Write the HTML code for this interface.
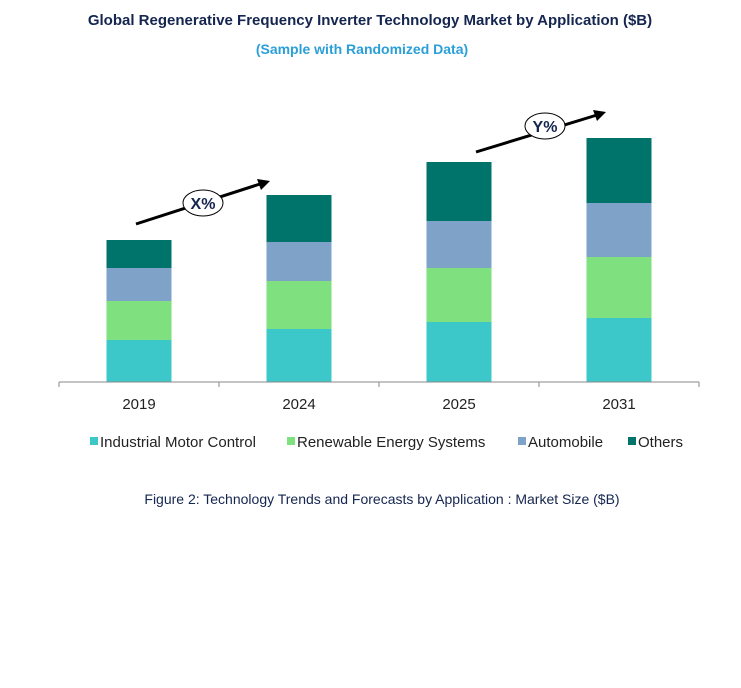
<!DOCTYPE html>
<html><head><meta charset="utf-8"><style>
body{margin:0;background:#fff;font-family:"Liberation Sans",Arial,sans-serif;}
svg{display:block}
</style></head><body>
<svg id="chart" width="741" height="688">
<text x="370" y="25" text-anchor="middle" font-size="15" font-weight="bold" fill="#14254f">Global Regenerative Frequency Inverter Technology Market by Application ($B)</text>
<text x="362" y="54" text-anchor="middle" font-size="14" font-weight="bold" fill="#2a9fd8">(Sample with Randomized Data)</text>
<g id="bars"></g>
<line x1="59" y1="382" x2="699" y2="382" stroke="#888"/>
<g id="ticks"></g>
<g>
<line x1="136" y1="224" x2="260" y2="184" stroke="#000" stroke-width="3"/>
<polygon points="270,181 257,179 261,190" fill="#000"/>
<ellipse cx="203" cy="203" rx="20" ry="13" fill="#fff" stroke="#000"/>
<text x="203" y="209" text-anchor="middle" font-size="16" font-weight="bold" fill="#14254f">X%</text>
</g>
<g>
<line x1="476" y1="152" x2="597" y2="115" stroke="#000" stroke-width="3"/>
<polygon points="606,112 593,110 597,121" fill="#000"/>
<ellipse cx="545" cy="126" rx="20" ry="13" fill="#fff" stroke="#000"/>
<text x="545" y="132" text-anchor="middle" font-size="16" font-weight="bold" fill="#14254f">Y%</text>
</g>
<g id="legend"></g>
<text x="382" y="504" text-anchor="middle" font-size="14" fill="#14254f">Figure 2: Technology  Trends  and Forecasts by Application : Market Size ($B)</text>
</svg>
<script>
const categories=["2019","2024","2025","2031"];
const seriesNames=["Industrial Motor Control","Renewable Energy Systems","Automobile","Others"];
const industrial=[4.2,5.3,6.0,6.4];
const renewable=[3.9,4.8,5.4,6.1];
const automobile=[3.3,3.9,4.7,5.4];
const others=[2.8,4.7,5.9,6.5];
const colors=["#3cc8c8","#7ee07e","#7fa3c8","#00736a"];
const series=[industrial,renewable,automobile,others];
const NS="http://www.w3.org/2000/svg";
const x0=59,band=160,baseY=382,pxPer=10,barW=65;
function xCenter(i){return x0+band*i+band/2;}
function yPos(v){return baseY-v*pxPer;}
const bars=document.getElementById('bars');
categories.forEach((c,i)=>{
  let acc=0;
  series.forEach((s,k)=>{
    const r=document.createElementNS(NS,'rect');
    r.setAttribute('x',xCenter(i)-barW/2);
    r.setAttribute('y',yPos(acc+s[i]));
    r.setAttribute('width',barW);
    r.setAttribute('height',s[i]*pxPer);
    r.setAttribute('fill',colors[k]);
    
    
    bars.appendChild(r);
    acc+=s[i];
  });
});
const ticks=document.getElementById('ticks');
for(let i=0;i<=categories.length;i++){
  const l=document.createElementNS(NS,'line');
  l.setAttribute('x1',x0+band*i);l.setAttribute('x2',x0+band*i);
  l.setAttribute('y1',baseY);l.setAttribute('y2',baseY+5);
  l.setAttribute('stroke','#888');
  
  
  ticks.appendChild(l);
}
categories.forEach((c,i)=>{
  const t=document.createElementNS(NS,'text');
  t.setAttribute('x',xCenter(i));t.setAttribute('y',409);
  t.setAttribute('text-anchor','middle');t.setAttribute('font-size','15');t.setAttribute('fill','#222');
  t.textContent=c;
  
  
  ticks.appendChild(t);
});
const legend=document.getElementById('legend');
const lx=[90,287,518,628];
seriesNames.forEach((n,k)=>{
  const g=document.createElementNS(NS,'g');
  
  
  const r=document.createElementNS(NS,'rect');
  r.setAttribute('x',lx[k]);r.setAttribute('y',437);r.setAttribute('width',8);r.setAttribute('height',8);
  r.setAttribute('fill',colors[k]);
  const t=document.createElementNS(NS,'text');
  t.setAttribute('x',lx[k]+10);t.setAttribute('y',447);t.setAttribute('font-size','15');t.setAttribute('fill','#222');
  t.textContent=n;
  g.appendChild(r);g.appendChild(t);legend.appendChild(g);
});
</script>
</body></html>
